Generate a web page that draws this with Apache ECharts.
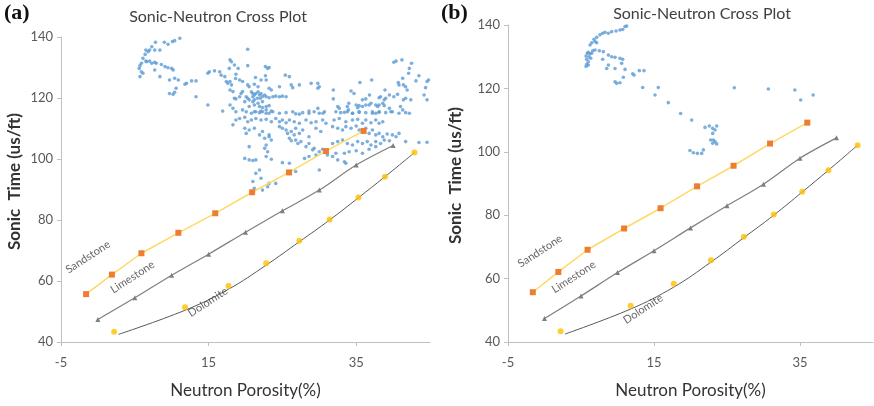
<!DOCTYPE html>
<html>
<head>
<meta charset="utf-8">
<script src="https://cdn.jsdelivr.net/npm/echarts@6/dist/echarts.min.js"></script>
<style>
html,body{margin:0;padding:0;background:#fff;}
#chart{width:874px;height:406px;}
</style>
</head>
<body>
<div id="chart"></div>
<script>
// ---------- data ----------
const panelTitles = ['Sonic-Neutron Cross Plot', 'Sonic-Neutron Cross Plot'];
const panelTags = ['(a)', '(b)'];
const xName = 'Neutron Porosity(%)';
const yName = 'Sonic  Time (us/ft)';
const xTicks = [-5, 15, 35];
const yTicks = [40, 60, 80, 100, 120, 140];

const sandstoneX = [-1.6, 1.9, 5.9, 10.9, 15.9, 20.9, 25.9, 30.9, 36.0];
const sandstoneY = [55.7, 62.1, 69.1, 75.8, 82.2, 89.1, 95.6, 102.6, 109.2];
const limestoneX = [0, 5, 10, 15, 20, 25, 30, 35, 40];
const limestoneY = [47.4, 54.5, 61.9, 68.8, 76.0, 83.0, 89.8, 98.0, 104.4];
const dolomiteX = [2.2, 11.8, 17.7, 22.8, 27.3, 31.4, 35.3, 38.9, 42.9];
const dolomiteY = [43.4, 51.4, 58.4, 65.8, 73.2, 80.2, 87.4, 94.2, 102.1];
const dolomiteFitX = [2.8, 11.8, 17.7, 22.8, 27.3, 31.4, 35.3, 38.9, 42.9];
const dolomiteFitY = [42.5, 50.4, 57.3, 65.2, 72.9, 80.0, 87.3, 94.2, 102.1];

const lithoNames = ['Sandstone', 'Limestone', 'Dolomite'];
const lithoLabelA = [[-1.35, 67.9], [4.7, 61.3], [14.9, 53.1]];
const lithoLabelB = [[-0.6, 68.7], [4.0, 60.5], [13.5, 50.4]];

// well-log points, panel (a)
const logA = [
[11.1,139.6],[10.4,138.8],[10.1,138.5],[9.5,137.6],[9.0,138.3],[8.4,135.7],[7.8,138.3],[7.7,135.7],[7.3,136.8],[7.0,135.7],
[6.8,135.2],[6.5,135.7],[6.4,134.3],[6.1,133.0],[6.5,132.1],[5.9,131.4],[5.7,130.6],[5.6,129.7],[5.9,128.6],[6.1,128.1],
[5.7,127.0],[6.6,131.9],[7.0,132.1],[7.3,131.4],[7.7,131.7],[7.9,131.4],[8.6,131.0],[9.1,130.3],[9.5,129.9],[10.0,129.7],
[10.2,129.2],[7.7,129.2],[8.4,127.0],[9.7,125.9],[10.4,126.5],[10.9,125.9],[10.6,123.2],[11.8,124.5],[12.0,124.8],[12.7,125.6],
[13.3,125.6],[9.7,121.5],[10.2,121.2],[10.4,121.9],[13.3,120.4],[14.9,117.7],[16.9,115.7],[14.9,128.1],[15.1,128.6],[15.8,128.9],
[16.5,128.6],[16.7,127.5],[17.2,127.0],[17.4,125.4],[17.6,124.8],[17.8,129.7],
[20.3,136.0],[17.9,132.5],[18.1,131.9],[18.5,130.8],[19.0,129.7],[20.3,130.6],[22.7,130.3],[23.0,129.7],[23.2,130.0],[18.7,127.8],
[18.65,126.4],[19.2,125.9],[19.6,125.4],[17.9,125.4],[18.1,124.3],[21.35,126.7],[22.1,125.9],[22.7,127.3],[22.8,125.9],[25.4,127.5],
[25.95,127.0],[20.3,124.3],[20.5,123.7],[21.2,124.5],[21.7,123.7],[23.2,123.2],[23.5,122.6],[24.6,123.7],[26.2,124.3],[26.4,123.4],
[27.3,124.3],[28.9,124.8],[29.8,124.8],[30.0,123.7],[29.8,123.2],[17.9,122.6],[18.3,122.1],[19.4,121.5],[19.6,122.1],
[20.8,122.0],[21.0,121.5],[21.2,121.0],[21.4,121.5],[21.7,122.0],[21.9,121.0],[22.1,121.5],[22.3,120.5],[22.6,121.0],
[20.1,120.4],[20.3,119.9],[20.5,119.4],[21.0,120.4],[21.2,119.4],[21.6,119.9],[22.0,119.9],[22.8,120.4],[23.2,120.1],[23.7,120.4],
[24.1,120.6],[24.6,120.4],[25.0,120.6],[25.5,120.4],[18.5,119.9],[18.7,119.7],[19.2,120.4],[19.9,118.8],[21.0,118.8],[21.7,118.3],
[22.3,118.8],[20.5,117.2],[21.2,117.7],[21.9,117.2],[22.3,116.9],[22.8,117.2],[23.2,117.5],[21.4,115.5],[22.1,115.7],[22.8,116.1],
[23.2,115.0],[23.5,115.7],[28.6,115.7],[29.8,116.6],[30.5,115.0],[27.3,114.7],[17.9,117.7],[18.3,116.6],[18.7,115.5],[19.6,116.1],
[40.1,131.7],[40.4,132.1],[41.2,132.5],[42.5,131.4],[42.2,129.7],[42.1,128.1],[41.3,126.5],[43.5,127.3],[43.1,125.6],[44.8,125.9],
[44.6,125.4],[40.7,125.1],[40.8,124.3],[41.4,124.3],[41.7,123.7],[41.9,122.6],[44.4,123.4],[37.1,125.9],[35.5,125.1],[31.9,122.6],
[34.3,122.3],[34.7,121.5],[38.9,122.6],[36.8,121.0],[35.85,119.4],[36.3,119.7],[38.1,120.1],[38.3,120.4],[38.8,119.4],[39.0,119.9],
[39.5,121.0],[40.1,120.4],[40.6,121.2],[41.4,119.4],[41.7,119.9],[42.4,119.4],[44.2,121.0],[44.6,119.4],[31.9,119.7],[32.5,117.2],
[32.7,116.6],[34.0,118.3],[33.8,117.2],[33.95,116.1],[35.0,117.7],[35.2,116.8],[35.4,117.5],[35.85,117.2],[36.3,117.7],[36.75,117.7],
[37.0,118.3],[37.65,117.7],[37.9,117.2],[38.1,117.7],[38.6,118.3],[38.8,117.5],[37.2,115.5],[37.65,115.0],[38.1,115.3],[39.5,116.6],
[39.7,115.5],[41.0,117.2],[41.3,116.1],[33.4,115.3],[34.5,115.0],[35.4,115.3],[42.2,115.0],
[20.1,115.5],[20.8,115.0],[21.2,115.5],[21.9,115.2],[22.3,115.5],[22.8,115.0],[23.7,115.5],[24.6,115.0],[25.5,115.2],[26.4,115.5],
[26.8,114.8],[27.75,115.2],[28.6,115.0],[29.3,115.5],[30.0,115.0],[30.7,115.5],
[18.7,112.8],[19.2,113.3],[19.9,113.7],[20.3,112.2],[20.8,112.8],[21.4,113.3],[22.1,112.8],[22.8,113.0],[23.5,112.2],[24.1,113.3],
[24.6,112.2],[25.0,112.8],[25.5,111.9],[25.95,112.8],[26.6,112.2],[27.3,111.7],[28.2,112.8],[28.9,111.9],[29.55,112.2],[30.45,112.8],
[30.9,111.7],[18.3,111.2],[19.9,110.1],[20.1,108.4],[20.5,109.5],[21.2,110.1],[21.9,107.9],[22.3,109.0],[23.2,107.9],[24.6,110.6],
[25.0,110.1],[25.5,109.5],[25.7,108.4],[26.2,109.0],[26.6,107.9],[26.8,110.1],[27.3,108.4],[27.75,109.5],[28.6,107.3],[29.55,110.1],
[30.2,109.0],[22.6,106.8],[23.2,107.3],[23.5,106.2],[25.95,106.8],[26.2,106.0],[26.8,106.2],[27.1,105.1],[27.5,105.7],[28.2,104.05],
[28.6,105.1],[29.1,103.0],[29.3,103.5],[30.0,102.4],[30.45,103.2],[20.5,104.05],[22.8,104.6],[22.6,103.5],[23.0,102.4],[19.9,100.2],
[20.5,99.7],[21.0,99.5],[21.4,99.7],[22.8,100.8],[23.5,99.9],[25.0,98.8],[25.95,98.6],[28.0,100.2],[28.6,100.8],[29.55,101.3],
[30.0,96.4],[26.8,95.9],[21.9,96.4],[21.4,95.3],[21.0,92.6],[22.1,93.7],[23.2,92.0],[24.1,92.0],[21.2,90.4],[22.3,89.8],[23.0,90.9],
[32.25,115.5],[32.9,115.2],[33.8,115.5],[34.5,115.0],[35.4,115.5],[36.3,115.2],[37.2,115.0],[38.1,115.5],[39.0,115.2],[39.9,115.5],
[40.8,115.0],[41.7,115.2],[32.0,112.8],[32.7,113.3],[33.6,112.2],[34.5,112.8],[35.2,113.0],[35.85,111.7],[36.3,112.8],[37.0,111.9],
[37.65,112.8],[38.1,111.7],[38.6,112.2],[31.8,110.6],[32.5,110.1],[33.15,109.5],[33.6,110.6],[34.3,110.1],[35.0,110.8],[35.4,109.5],
[36.3,110.1],[36.75,108.4],[37.2,109.5],[37.65,107.9],[38.1,108.4],[38.6,107.3],[39.2,108.2],[39.9,107.9],[40.4,107.3],[40.8,108.4],
[41.7,105.7],[43.5,105.4],[44.6,105.5],[31.8,105.1],[32.5,105.7],[33.15,106.2],[33.8,105.1],[34.5,104.6],[35.2,105.7],[35.85,105.1],
[36.5,105.7],[37.0,104.6],[37.65,105.7],[38.3,105.1],[38.8,106.2],[39.5,106.0],[32.25,101.9],[33.4,101.9],[34.05,102.4],[35.0,102.7],
[35.85,101.9],[36.75,103.2],[37.65,104.05],[31.8,100.8],[32.5,99.7],[33.4,99.1],[33.6,98.6],[31.1,101.3]
];

// well-log points, panel (b)
const logB = [
[5.69,126.9],[5.78,127.6],[6.0,128.4],[5.78,129.2],[5.69,130.2],[5.87,131.1],[6.0,131.4],[6.24,130.9],[6.47,131.1],[6.6,131.9],
[6.92,132.1],[6.24,133.7],[6.47,134.4],[6.78,135.5],[7.15,136.1],[7.6,136.9],[7.97,137.4],[8.29,137.7],[8.75,137.4],[9.2,137.9],
[9.8,138.1],[10.34,138.4],[10.71,138.6],[11.03,139.5],[11.26,139.7],[6.92,134.8],[7.51,131.9],[8.06,131.6],[8.75,130.5],[9.2,130.0],
[9.66,129.8],[10.34,129.5],[10.57,127.9],[10.71,129.2],[7.97,129.2],[8.75,127.4],[8.52,126.3],[9.66,126.3],[11.03,126.0],[10.8,123.5],
[10.34,121.8],[9.66,122.1],[9.89,121.6],[12.08,124.6],[12.26,124.2],[12.99,125.6],[13.63,125.6],[13.45,120.3],[15.14,117.9],[15.59,120.3],
[16.96,115.5],[18.65,112.1],[20.16,110.0],[19.93,100.4],[20.39,99.7],[20.94,99.5],[21.53,99.5],[21.76,100.6],[21.99,107.7],[22.58,108.15],
[23.04,107.4],[23.59,108.15],[23.36,106.9],[23.04,105.8],[22.76,103.7],[23.04,102.7],[23.36,103.2],[23.59,102.5],[23.13,103.7],
[26.0,120.2],[30.66,119.8],[34.3,119.5],[35.1,116.35],[36.8,117.9],[6.1,130.0],[6.33,129.5],[6.0,127.4],[7.15,134.4]
];

// ---------- chart ----------
const chart = echarts.init(document.getElementById('chart'));
const zip = (xs, ys) => xs.map((x, i) => [x, ys[i]]);
const FONT = 'Lato, "Open Sans", sans-serif';

const grids = [
  {left: 61, top: 37, width: 369, height: 305},
  {left: 508, top: 25, width: 365, height: 317}
];
const yNameGap = [38, 44];

function axisX(i) {
  return {
    type: 'value', gridIndex: i, min: -5, max: 45, interval: 20,
    name: xName, nameLocation: 'middle', nameGap: 40,
    nameTextStyle: {fontFamily: FONT, fontSize: 17, color: '#333333', fontWeight: 'normal'},
    axisLine: {show: true, onZero: false, lineStyle: {color: '#BFBFBF', width: 1}},
    axisTick: {show: true, length: 4, lineStyle: {color: '#BFBFBF'}},
    axisLabel: {fontFamily: FONT, fontSize: 13, color: '#595959', margin: 14, showMaxLabel: false,
      formatter: v => xTicks.includes(v) ? String(v) : ''},
    splitLine: {show: false}
  };
}
function axisY(i) {
  return {
    type: 'value', gridIndex: i, min: 40, max: 140, interval: 20,
    name: yName, nameLocation: 'middle', nameGap: yNameGap[i],
    nameTextStyle: {fontFamily: FONT, fontSize: 17, color: '#333333', fontWeight: 'bold', padding: [0, 0, 0, 16]},
    axisLine: {show: true, onZero: false, lineStyle: {color: '#BFBFBF', width: 1}},
    axisTick: {show: true, length: 4, lineStyle: {color: '#BFBFBF'}},
    axisLabel: {fontFamily: FONT, fontSize: 13, color: '#595959', margin: 8,
      formatter: v => yTicks.includes(v) ? String(v) : ''},
    splitLine: {show: false}
  };
}

function panelSeries(i, logData, labelPos) {
  const ax = {xAxisIndex: i, yAxisIndex: i};
  return [
    Object.assign({type: 'scatter', name: 'log', data: logData, symbol: 'circle', symbolSize: 3.6,
      itemStyle: {color: '#5B9BD5'}, z: 2, silent: true}, ax),
    Object.assign({type: 'line', name: 'Sandstone', data: zip(sandstoneX, sandstoneY), symbol: 'rect', symbolSize: 6,
      showAllSymbol: true, itemStyle: {color: '#ED7D31'}, lineStyle: {color: '#FFD966', width: 1.5}, z: 4}, ax),
    Object.assign({type: 'line', name: 'Limestone', data: zip(limestoneX, limestoneY), symbol: 'triangle', symbolSize: 5,
      smooth: 0.3, showAllSymbol: true, itemStyle: {color: '#7F7F7F'}, lineStyle: {color: '#7F7F7F', width: 1.2}, z: 4}, ax),
    Object.assign({type: 'line', name: 'DolomiteFit', data: zip(dolomiteFitX, dolomiteFitY), symbol: 'none',
      smooth: 0.4, lineStyle: {color: '#595959', width: 1}, z: 3}, ax),
    Object.assign({type: 'scatter', name: 'Dolomite', data: zip(dolomiteX, dolomiteY), symbol: 'circle', symbolSize: 6,
      itemStyle: {color: '#FFC000'}, z: 5}, ax),
    Object.assign({type: 'scatter', name: 'labels', symbolSize: 0, silent: true,
      data: lithoNames.map((n, k) => ({name: n, value: labelPos[k]})),
      label: {show: true, formatter: '{b}', position: 'inside', rotate: 33,
        fontFamily: FONT, fontSize: 11, color: '#404040'}, z: 6}, ax)
  ];
}

const option = {
  animation: false,
  backgroundColor: '#ffffff',
  title: [
    {text: panelTitles[0], left: 213, top: 4, textAlign: 'center',
      textStyle: {fontFamily: FONT, fontSize: 16, fontWeight: 'normal', color: '#404040'}},
    {text: panelTitles[1], left: 697, top: 1, textAlign: 'center',
      textStyle: {fontFamily: FONT, fontSize: 16, fontWeight: 'normal', color: '#404040'}}
  ],
  graphic: [
    {type: 'text', left: 4, top: 2, style: {text: panelTags[0], font: 'bold 22px "Liberation Serif", serif', fill: '#111'}},
    {type: 'text', left: 441, top: 2, style: {text: panelTags[1], font: 'bold 22px "Liberation Serif", serif', fill: '#111'}}
  ],
  grid: grids,
  xAxis: [axisX(0), axisX(1)],
  yAxis: [axisY(0), axisY(1)],
  series: [...panelSeries(0, logA, lithoLabelA), ...panelSeries(1, logB, lithoLabelB)]
};
chart.setOption(option);
</script>
</body>
</html>
